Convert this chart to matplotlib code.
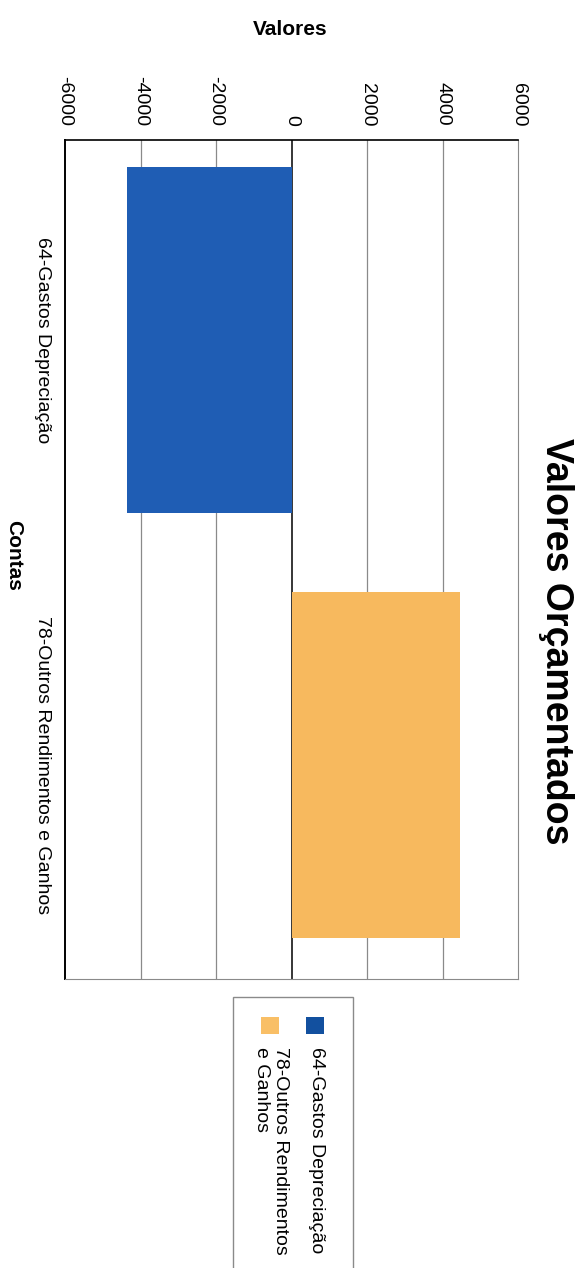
import matplotlib
matplotlib.use("Agg")
import matplotlib.pyplot as plt
from matplotlib.patches import Rectangle

plt.rcParams['font.family'] = ['Liberation Sans', 'DejaVu Sans']

# data
contas = ['64-Gastos Depreciação', '78-Outros Rendimentos e Ganhos']
legenda = ['64-Gastos Depreciação', '78-Outros Rendimentos\ne Ganhos']
valores = [-4350, 4460]
cores = ['#1F5DB4', '#F7B95E']
cores_legenda = ['#12509F', '#F9BF66']
ticks = [-6000, -4000, -2000, 0, 2000, 4000, 6000]

W, H = 583, 1268
fig = plt.figure(figsize=(W / 100, H / 100), dpi=100)

def fx(px):
    return px / W

def fy(py):
    return 1 - py / H

# plot area (chart is turned 90 deg clockwise)
ax = fig.add_axes([fx(65), fy(979), fx(518) - fx(65), fy(140) - fy(979)])
ax.barh(range(len(contas)), valores, height=0.813, color=cores, zorder=3)

ax.set_xlim(ticks[0], ticks[-1])
ax.set_ylim(1.502, -0.47)
ax.xaxis.tick_top()
ax.set_xticks(ticks)
ax.set_xticklabels([str(t) for t in ticks], rotation=-90, fontsize=14)
ax.tick_params(axis='x', length=0, pad=10)
ax.set_yticks(range(len(contas)))
ax.set_yticklabels(contas, rotation=-90, fontsize=14, va='center')
ax.tick_params(axis='y', length=0, pad=10)

for t in ticks[1:-1]:
    ax.axvline(t, color='black' if t == 0 else '#8a8a8a',
               lw=1.1 if t == 0 else 0.9, zorder=2)

ax.spines['left'].set_color('black')
ax.spines['left'].set_linewidth(1.4)
ax.spines['top'].set_color('black')
ax.spines['top'].set_linewidth(1.2)
ax.spines['right'].set_color('#8a8a8a')
ax.spines['bottom'].set_color('#8a8a8a')

ax.xaxis.set_label_position('top')
ax.set_xlabel('Valores', fontsize=15, fontweight='bold', va='center')
ax.xaxis.set_label_coords(0.497, 1 + (140 - 30) / 839)
ax.set_ylabel('Contas', fontsize=15, fontweight='bold', rotation=-90,
              va='center', ha='center')
ax.yaxis.set_label_coords((14 - 65) / 453, 1 - (555 - 140) / 839)

fig.suptitle('Valores Orçamentados', x=fx(556), y=fy(641), rotation=-90,
             ha='center', va='center', fontsize=27, fontweight='bold')

# legend box drawn by hand, runs off the page like the scan
fig.patches.append(Rectangle((fx(233), fy(1290)), fx(353) - fx(233), fy(997) - fy(1290),
                             transform=fig.transFigure, fill=False,
                             edgecolor='#8a8a8a', lw=1.0))
leg_x = [316, 271]
sq_x = [315, 270]
for i in range(len(legenda)):
    fig.patches.append(Rectangle((fx(sq_x[i] - 9), fy(1034)), fx(18), 17 / H,
                                 transform=fig.transFigure,
                                 facecolor=cores_legenda[i], edgecolor='none'))
    fig.text(fx(leg_x[i]), fy(1047), legenda[i], rotation=-90, ha='center', va='top',
             fontsize=14, multialignment='left', linespacing=1.1)

fig.savefig('out.png', dpi=100)
